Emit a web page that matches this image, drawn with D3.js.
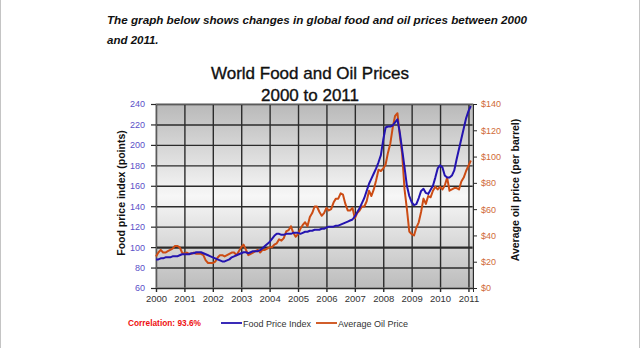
<!DOCTYPE html>
<html>
<head>
<meta charset="utf-8">
<script src="https://cdn.jsdelivr.net/npm/d3@7/dist/d3.min.js"></script>
<style>
  html, body { margin: 0; padding: 0; background: #fff; }
  svg { display: block; font-family: "Liberation Sans", Arial, sans-serif; }
</style>
</head>
<body>
<script>
// monthly values, Jan 2000 .. Feb 2011
const startYear = 2000

// FAO food price index (points)
const foodIndex = [
  88, 88, 89, 89, 90, 90, 90, 91, 91, 91, 92, 93,            // 2000
  93, 93, 93, 94, 94, 95, 95, 95, 94, 93, 92, 91,            // 2001
  90, 89, 88, 87, 86, 86, 87, 88, 90, 91, 92, 93,            // 2002
  94, 95, 95, 94, 95, 96, 96, 96, 97, 99, 101, 103,          // 2003
  105, 108, 111, 113, 113, 112, 112, 113, 113, 113, 114, 114, // 2004
  114, 113, 114, 115, 115, 116, 116, 117, 117, 117, 118, 118, // 2005
  119, 120, 120, 120, 121, 121, 122, 123, 124, 125, 126, 127, // 2006
  130, 134, 138, 143, 148, 155, 162, 167, 172, 177, 183, 190, // 2007
  205, 217, 218, 218, 219, 222, 225, 212, 195, 178, 160, 150, // 2008
  144, 141, 142, 148, 155, 157, 153, 152, 156, 160, 168, 177, // 2009
  180, 178, 170, 168, 168, 170, 175, 186, 196, 206, 216, 226, // 2010
  233, 238                                                    // 2011
]

// average crude oil price ($ per barrel)
const oilPrice = [
  24, 27, 29, 27, 27, 28, 29, 30, 32, 32, 31, 27,   // 2000
  26, 27, 26, 26, 27, 26, 26, 26, 25, 21, 19, 19,   // 2001
  19, 20, 23, 25, 25, 24, 25, 26, 27, 27, 25, 28,   // 2002
  31, 33, 29, 25, 26, 27, 28, 29, 27, 29, 29, 30,   // 2003
  31, 31, 33, 34, 37, 36, 38, 43, 44, 47, 42, 39,   // 2004
  41, 45, 48, 50, 47, 54, 57, 62, 62, 58, 55, 57,   // 2005
  61, 59, 60, 65, 68, 68, 72, 71, 64, 59, 59, 61,   // 2006
  53, 57, 59, 62, 62, 66, 74, 70, 75, 82, 90, 89,   // 2007
  91, 94, 103, 110, 122, 131, 133, 116, 102, 75, 60, 43, // 2008
  41, 40, 46, 50, 58, 68, 64, 70, 69, 74, 77, 75,   // 2009
  77, 75, 78, 84, 74, 75, 76, 76, 75, 81, 84, 89,   // 2010
  93, 97                                            // 2011
]

const years      = d3.range(2000, 2012)
const foodTicks  = d3.range(60, 241, 20)
const oilTicks   = d3.range(0, 141, 20)
const seriesNames = ["Food Price Index", "Average Oil Price"]
const correlation = "Correlation: 93.6%"

const W = 640, H = 348
const plot = { left: 156, right: 473, top: 104, bottom: 288 }

const svg = d3.select("body").append("svg").attr("width", W).attr("height", H)
const defs = svg.append("defs")

// page frame lines on both sides
svg.append("line").attr("x1", 0.5).attr("x2", 0.5).attr("y1", 0).attr("y2", H)
  .attr("stroke", "#c4c4c4")
svg.append("line").attr("x1", W - 0.5).attr("x2", W - 0.5).attr("y1", 0).attr("y2", H)
  .attr("stroke", "#c4c4c4")

// question text
const q = svg.append("text").attr("font-size", 11.5).attr("font-weight", "bold")
  .attr("font-style", "italic").attr("fill", "#111")
q.append("tspan").attr("x", 107).attr("y", 24)
  .attr("textLength", 420).attr("lengthAdjust", "spacingAndGlyphs")
  .text("The graph below shows changes in global food and oil prices between 2000")
q.append("tspan").attr("x", 107).attr("y", 44).text("and 2011.")

// chart title (a touch heavier than regular)
svg.append("g").selectAll("text")
  .data(["World Food and Oil Prices", "2000 to 2011"]).join("text")
  .attr("x", 310).attr("y", (d, i) => 79 + i * 22).attr("text-anchor", "middle")
  .attr("font-size", 17).attr("fill", "#111")
  .attr("stroke", "#111").attr("stroke-width", 0.35)
  .text(d => d)

const x = d3.scaleLinear().domain([2000, 2011.16]).range([plot.left, plot.right])
const yFood = d3.scaleLinear().domain([60, 240]).range([plot.bottom, plot.top])
const yOil  = d3.scaleLinear().domain([0, 140]).range([plot.bottom, plot.top])

// background: grey at top and bottom, light in the middle
const bg = defs.append("linearGradient").attr("id", "plot-bg")
  .attr("x1", 0).attr("y1", 0).attr("x2", 0).attr("y2", 1)
bg.append("stop").attr("offset", "0%").attr("stop-color", "#b9b9b9")
bg.append("stop").attr("offset", "50%").attr("stop-color", "#f7f7f7")
bg.append("stop").attr("offset", "100%").attr("stop-color", "#bcbcbc")

svg.append("rect")
  .attr("x", plot.left).attr("y", plot.top)
  .attr("width", plot.right - plot.left).attr("height", plot.bottom - plot.top)
  .attr("fill", "url(#plot-bg)")

// grid lines
const gridY = svg.append("g").attr("transform", `translate(${plot.left},0)`)
  .call(d3.axisLeft(yFood).tickValues(foodTicks)
    .tickSize(-(plot.right - plot.left)).tickFormat(""))
gridY.select(".domain").remove()
gridY.selectAll("line").attr("stroke", "#2b2b2b")
  .attr("stroke-width", d => d === 100 ? 2.2 : 1.4)

const gridX = svg.append("g").attr("transform", `translate(0,${plot.bottom})`)
  .call(d3.axisBottom(x).tickValues(years)
    .tickSize(-(plot.bottom - plot.top)).tickFormat(""))
gridX.select(".domain").remove()
gridX.selectAll("line").attr("stroke", "#2b2b2b").attr("stroke-width", 1.4)

svg.append("rect")
  .attr("x", plot.left).attr("y", plot.top)
  .attr("width", plot.right - plot.left).attr("height", plot.bottom - plot.top)
  .attr("fill", "none").attr("stroke", "#8a8a8a").attr("stroke-width", 1)

// axes
const axL = svg.append("g").attr("transform", `translate(${plot.left},0)`)
  .call(d3.axisLeft(yFood).tickValues(foodTicks).tickSize(5).tickPadding(6))
axL.select(".domain").remove()
axL.selectAll("line").attr("stroke", "#2b2b2b").attr("stroke-width", 1.2)
axL.selectAll("text").attr("font-size", 9).attr("fill", "#5a50c8")
  .attr("font-family", "'Liberation Sans', Arial, sans-serif")

const axR = svg.append("g").attr("transform", `translate(${plot.right},0)`)
  .call(d3.axisRight(yOil).tickValues(oilTicks).tickSize(4).tickPadding(4)
    .tickFormat(d => "$" + d))
axR.select(".domain").attr("stroke", "#2b2b2b")
axR.selectAll("line").attr("stroke", "#2b2b2b")
axR.selectAll("text").attr("font-size", 9).attr("fill", "#d06a38")
  .attr("font-family", "'Liberation Sans', Arial, sans-serif")

const axB = svg.append("g").attr("transform", `translate(0,${plot.bottom})`)
  .call(d3.axisBottom(x).tickValues(years).tickSize(4).tickPadding(3)
    .tickFormat(d3.format("d")))
axB.select(".domain").attr("stroke", "#2b2b2b")
axB.selectAll("line").attr("stroke", "#2b2b2b").attr("stroke-width", 1.4)
axB.selectAll("text").attr("font-size", 9.5).attr("fill", "#333")
  .attr("font-family", "'Liberation Sans', Arial, sans-serif")

// axis titles
svg.append("text")
  .attr("transform", "translate(125,193) rotate(-90)")
  .attr("text-anchor", "middle").attr("font-size", 10.5).attr("font-weight", "bold")
  .attr("fill", "#111").text("Food price index (points)")
svg.append("text")
  .attr("transform", "translate(519,190) rotate(-90)")
  .attr("text-anchor", "middle").attr("font-size", 10.5).attr("font-weight", "bold")
  .attr("fill", "#111").text("Average oil price (per barrel)")

// series lines
const monthX = i => x(startYear + i / 12)
const foodLine = d3.line().x((d, i) => monthX(i)).y(d => yFood(d))
const oilLine  = d3.line().x((d, i) => monthX(i)).y(d => yOil(d))

svg.append("path").datum(oilPrice).attr("d", oilLine)
  .attr("fill", "none").attr("stroke", "#cc4c14").attr("stroke-width", 2)
  .attr("stroke-linejoin", "round")
svg.append("path").datum(foodIndex).attr("d", foodLine)
  .attr("fill", "none").attr("stroke", "#2414b0").attr("stroke-width", 2)
  .attr("stroke-linejoin", "round")

// legend
svg.append("text").attr("x", 128).attr("y", 326)
  .attr("font-size", 8.5).attr("font-weight", "bold").attr("fill", "#ee1111")
  .attr("textLength", 73).attr("lengthAdjust", "spacingAndGlyphs")
  .text(correlation)

const legendItems = [
  { name: seriesNames[0], color: "#2414b0", x: 221, tw: 68 },
  { name: seriesNames[1], color: "#cc4c14", x: 316, tw: 70 }
]
const lg = svg.append("g").selectAll("g").data(legendItems).join("g")
  .attr("transform", d => `translate(${d.x},323)`)
lg.append("line").attr("x1", 0).attr("x2", 21).attr("y1", 0).attr("y2", 0)
  .attr("stroke", d => d.color).attr("stroke-width", 1.8)
lg.append("text").attr("x", 22).attr("y", 3.5).attr("font-size", 9.5).attr("fill", "#333")
  .attr("textLength", d => d.tw).attr("lengthAdjust", "spacingAndGlyphs")
  .text(d => d.name)
</script>
</body>
</html>
